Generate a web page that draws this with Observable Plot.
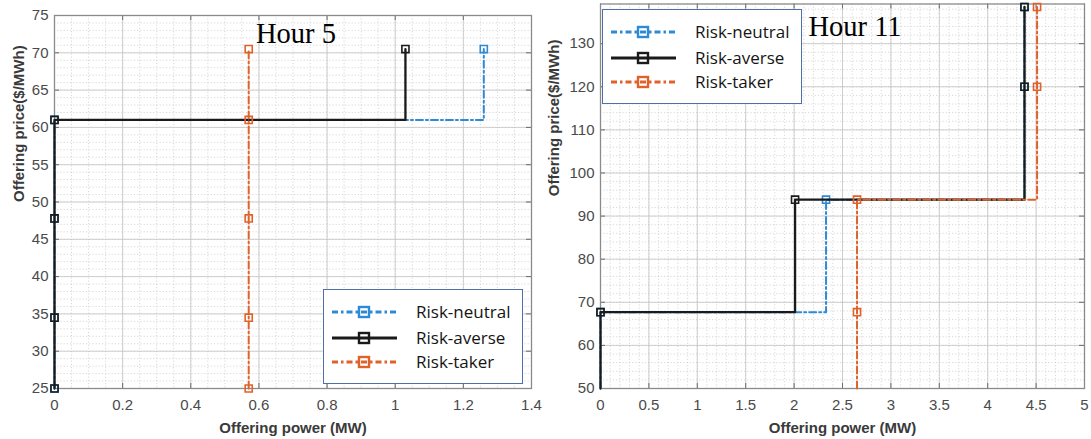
<!DOCTYPE html>
<html>
<head>
<meta charset="utf-8">
<script src="https://cdn.jsdelivr.net/npm/d3@7"></script>
<script src="https://cdn.jsdelivr.net/npm/@observablehq/plot@0.6"></script>
<style>
  body { margin: 0; background: #fff; }
  #figure { display: flex; width: 1091px; height: 439px; overflow: hidden; }
  .panel { position: relative; height: 439px; }
  .legend {
    position: absolute; box-sizing: border-box; width: 200px; height: 95px;
    border: 1.5px solid #4f6fa8; background: #fff;
    font-family: "Open Sans", sans-serif; font-size: 17px; color: #151515;
  }
  .legend .entry { position: absolute; left: 0; width: 100%; height: 24px; }
  .legend .entry svg { position: absolute; left: 0; top: 0; }
  .legend .entry span { position: absolute; left: 92px; top: 50%; transform: translateY(-54%); white-space: nowrap; }
</style>
</head>
<body>
<div id="figure"></div>
<script>
// Offer curves: price blocks ($/MWh) and cumulative offered power (MW) for each strategy
const strategies = ["Risk-neutral", "Risk-averse", "Risk-taker"];
const strategyColors = ["#2f8ad6", "#1a1a1a", "#e0622b"];
const strategyDashes = ["7,3,2,3", null, "7,3,2,3"];
const strategyWidths = [2, 2.3, 2];

const hour5Prices = [25, 34.5, 47.8, 61, 70.5];
const hour5Neutral = [0, 0, 0, 0, 1.26];
const hour5Averse = [0, 0, 0, 0, 1.03];
const hour5Taker = [0.57, 0.57, 0.57, 0.57, 0.57];

const hour11Prices = [67.7, 93.8, 120, 138.5];
const hour11Neutral = [0, 2.33, 4.38, 4.38];
const hour11Averse = [0, 2.01, 4.38, 4.38];
const hour11Taker = [2.65, 2.65, 4.51, 4.51];
const hour11PriceFloor = 50;

const hour5XTicks = [0, 0.2, 0.4, 0.6, 0.8, 1, 1.2, 1.4];
const hour5YTicks = [25, 30, 35, 40, 45, 50, 55, 60, 65, 70, 75];
const hour11XTicks = [0, 0.5, 1, 1.5, 2, 2.5, 3, 3.5, 4, 4.5, 5];
const hour11YTicks = [50, 60, 70, 80, 90, 100, 110, 120, 130];

const xLabel = "Offering power (MW)";
const yLabel = "Offering price($/MWh)";

function offerPoints(quantities, prices) {
  return quantities.map((q, i) => ({q, p: prices[i]}));
}

function drawPanel(cfg) {
  const H = cfg.height - cfg.marginTop - cfg.marginBottom;
  const W = cfg.width - cfg.marginLeft - cfg.marginRight;
  const tickLen = 5;
  const marks = [
    // minor grid (dotted) and major grid (solid)
    Plot.gridX({ticks: cfg.xMinor, stroke: "#c8c8c8", strokeOpacity: 0.7, strokeDasharray: "1.2,2"}),
    Plot.gridY({ticks: cfg.yMinor, stroke: "#c8c8c8", strokeOpacity: 0.7, strokeDasharray: "1.2,2"}),
    Plot.gridX(cfg.xTicks, {stroke: "#c4c4c4", strokeOpacity: 0.8}),
    Plot.gridY(cfg.yTicks, {stroke: "#c4c4c4", strokeOpacity: 0.8}),
    // inward ticks on all four sides of the box
    Plot.tickX(cfg.xTicks, {x: d => d, insetTop: H - tickLen, stroke: "#6b6b6b"}),
    Plot.tickX(cfg.xTicks, {x: d => d, insetBottom: H - tickLen, stroke: "#6b6b6b"}),
    Plot.tickY(cfg.yTicks, {y: d => d, insetRight: W - tickLen, stroke: "#6b6b6b"}),
    Plot.tickY(cfg.yTicks, {y: d => d, insetLeft: W - tickLen, stroke: "#6b6b6b"}),
    Plot.frame({stroke: "#8a8a8a", strokeWidth: 1.3}),
    Plot.axisX(cfg.xTicks, {tickSize: 0, tickPadding: 11, label: null, tickFormat: d => `${d}`, fill: "#4a4a4a"}),
    Plot.axisY(cfg.yTicks, {tickSize: 0, tickPadding: 6, label: null, tickFormat: d => `${d}`, fill: "#4a4a4a"}),
    Plot.text([xLabel], {frameAnchor: "bottom", dy: 44, lineAnchor: "bottom", fontWeight: "bold", fill: "#3a3a3a", fontSize: 15}),
    Plot.text([yLabel], {frameAnchor: "left", dx: cfg.yLabelDx, rotate: -90, fontWeight: "bold", fill: "#3a3a3a", fontSize: 15}),
    Plot.text([cfg.title], {frameAnchor: "top", dx: cfg.titleDx, dy: cfg.titleDy, lineAnchor: "bottom",
      fontFamily: "Liberation Serif", fontSize: 28.5, fill: "#000"})
  ];
  cfg.series.forEach((s, i) => {
    marks.push(Plot.line(s.line, {x: "q", y: "p", curve: "step-after", stroke: strategyColors[i],
      strokeWidth: strategyWidths[i], strokeDasharray: strategyDashes[i]}));
    marks.push(Plot.dot(s.points, {x: "q", y: "p", symbol: "square", r: 4, fill: "none",
      stroke: strategyColors[i], strokeWidth: 1.6}));
  });
  const chart = Plot.plot({
    width: cfg.width, height: cfg.height,
    marginLeft: cfg.marginLeft, marginRight: cfg.marginRight,
    marginTop: cfg.marginTop, marginBottom: cfg.marginBottom,
    x: {domain: cfg.xDomain, axis: null},
    y: {domain: cfg.yDomain, axis: null},
    style: {fontFamily: "Liberation Sans, Arial, sans-serif", fontSize: "15px", background: "transparent", overflow: "visible"},
    marks
  });
  const wrap = document.createElement("div");
  wrap.className = "panel";
  wrap.style.width = cfg.width + "px";
  wrap.appendChild(chart);
  wrap.appendChild(makeLegend(cfg.legendLeft, cfg.legendTop));
  document.getElementById("figure").appendChild(wrap);
}

function makeLegend(left, top) {
  const box = document.createElement("div");
  box.className = "legend";
  box.style.left = left + "px";
  box.style.top = top + "px";
  const rowCenters = [22, 47.5, 71.5];
  strategies.forEach((name, i) => {
    const row = document.createElement("div");
    row.className = "entry";
    row.style.top = (rowCenters[i] - 12) + "px";
    const ns = "http://www.w3.org/2000/svg";
    const svg = document.createElementNS(ns, "svg");
    svg.setAttribute("width", 80); svg.setAttribute("height", 24);
    const line = document.createElementNS(ns, "line");
    line.setAttribute("x1", 8); line.setAttribute("x2", 73);
    line.setAttribute("y1", 12); line.setAttribute("y2", 12);
    line.setAttribute("stroke", strategyColors[i]);
    line.setAttribute("stroke-width", 2.8);
    if (strategyDashes[i]) line.setAttribute("stroke-dasharray", "6,3,2.5,3");
    const sq = document.createElementNS(ns, "rect");
    sq.setAttribute("x", 35); sq.setAttribute("y", 7); sq.setAttribute("width", 10); sq.setAttribute("height", 10);
    sq.setAttribute("fill", "none"); sq.setAttribute("stroke", strategyColors[i]); sq.setAttribute("stroke-width", 2.4);
    svg.appendChild(line); svg.appendChild(sq);
    const label = document.createElement("span");
    label.textContent = name;
    row.appendChild(svg); row.appendChild(label);
    box.appendChild(row);
  });
  return box;
}

// Hour 5
const hour5Series = [hour5Neutral, hour5Averse, hour5Taker].map(qs => {
  const pts = offerPoints(qs, hour5Prices);
  return {line: pts, points: pts};
});
drawPanel({
  width: 545, height: 439, marginLeft: 54, marginRight: 14, marginTop: 15, marginBottom: 51,
  xDomain: [0, 1.4], yDomain: [25, 75], xTicks: hour5XTicks, yTicks: hour5YTicks, xMinor: 28, yMinor: 50,
  series: hour5Series, title: "Hour 5", titleDx: 3, titleDy: 27.7, yLabelDx: -35,
  legendLeft: 323, legendTop: 289
});

// Hour 11: each curve rises from the bottom of the price axis to its first offer block
const hour11Series = [hour11Neutral, hour11Averse, hour11Taker].map(qs => {
  const pts = offerPoints(qs, hour11Prices);
  return {line: [{q: qs[0], p: hour11PriceFloor}, ...pts], points: pts};
});
drawPanel({
  width: 546, height: 439, marginLeft: 55, marginRight: 7, marginTop: 3.5, marginBottom: 51,
  xDomain: [0, 5], yDomain: [50, 139.2], xTicks: hour11XTicks, yTicks: hour11YTicks, xMinor: 50, yMinor: 45,
  series: hour11Series, title: "Hour 11", titleDx: 12.5, titleDy: 31.5, yLabelDx: -46,
  legendLeft: 57, legendTop: 9
});
</script>
</body>
</html>
